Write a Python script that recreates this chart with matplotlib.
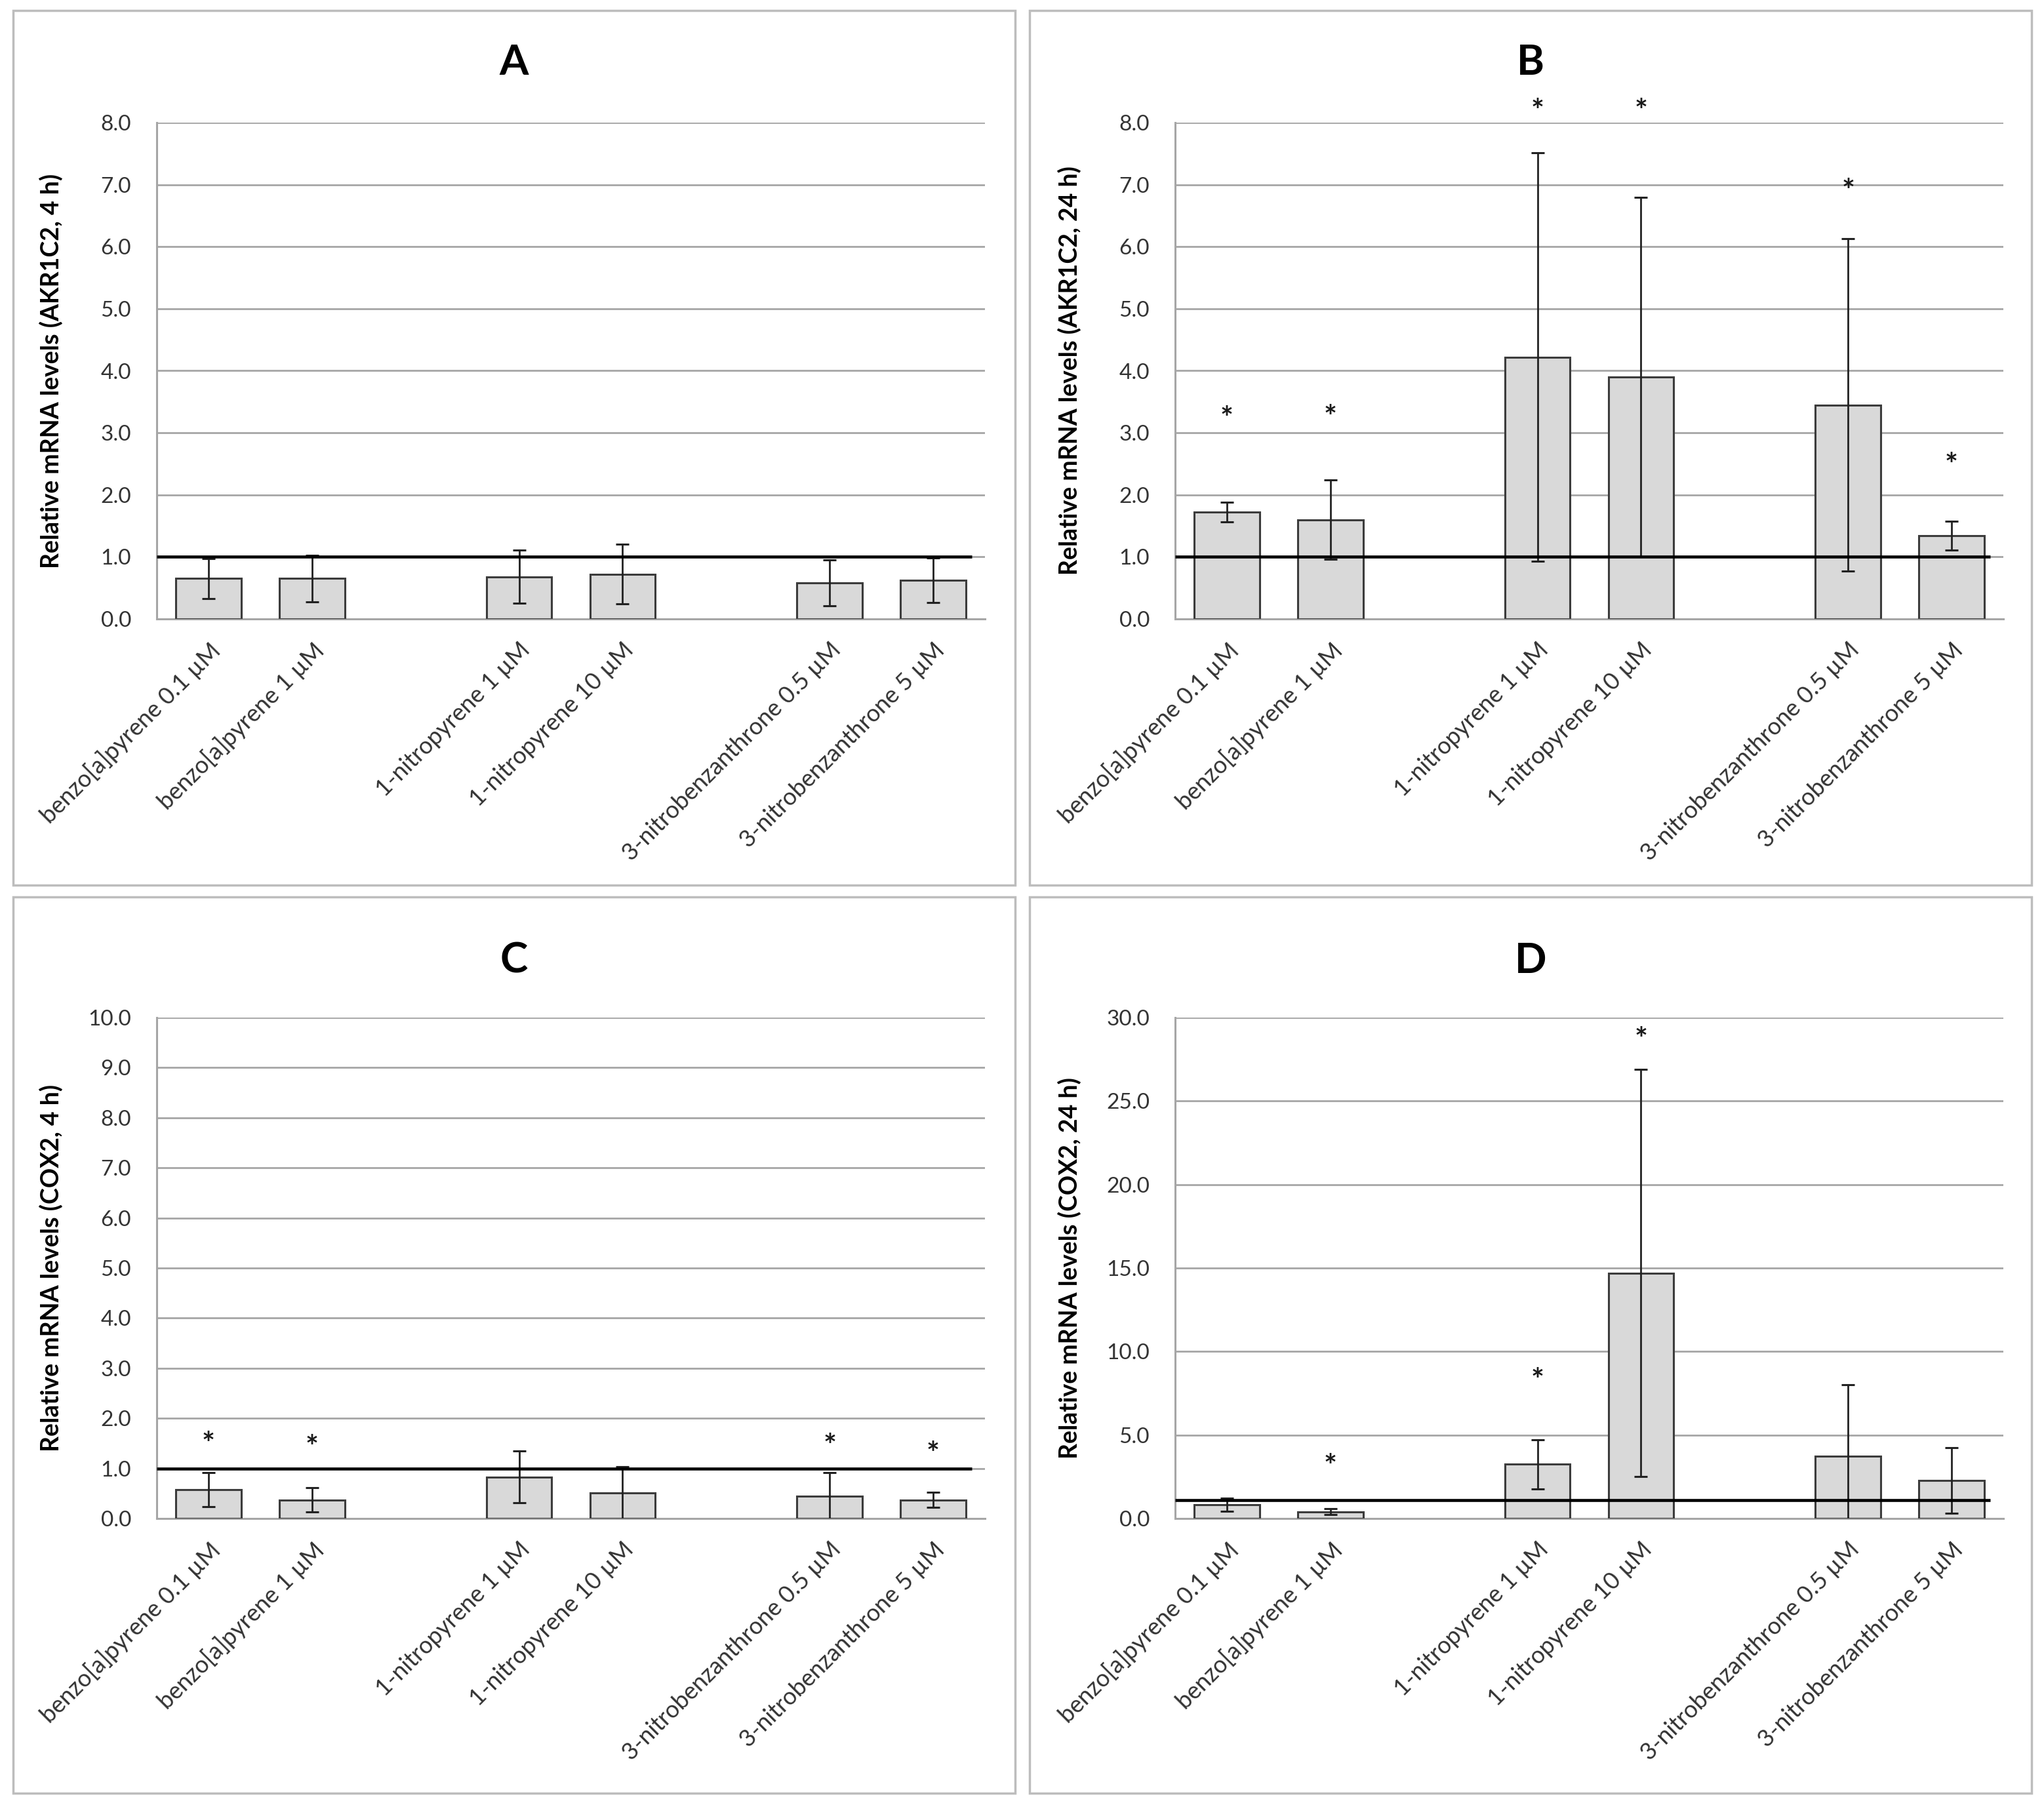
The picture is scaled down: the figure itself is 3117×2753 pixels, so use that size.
import matplotlib
matplotlib.use("Agg")
import matplotlib.pyplot as plt
from matplotlib.patches import Rectangle
import numpy as np

plt.rcParams['font.family'] = ['Lato', 'DejaVu Sans']

# ---------------- data ----------------
categories = ["benzo[a]pyrene 0.1 µM", "benzo[a]pyrene 1 µM", "",
              "1-nitropyrene 1 µM", "1-nitropyrene 10 µM", "",
              "3-nitrobenzanthrone 0.5 µM", "3-nitrobenzanthrone 5 µM"]
bar_slots = [0, 1, 3, 4, 6, 7]

titles = ["A", "B", "C", "D"]
ylabels = ["Relative mRNA levels (AKR1C2, 4 h)",
           "Relative mRNA levels (AKR1C2, 24 h)",
           "Relative mRNA levels (COX2, 4 h)",
           "Relative mRNA levels (COX2, 24 h)"]
ymax = [8.0, 8.0, 10.0, 30.0]
ystep = [1.0, 1.0, 1.0, 5.0]
ref_level = [1.0, 1.0, 1.0, 1.1]

vals_A = [0.65, 0.65, 0.68, 0.72, 0.58, 0.62]
err_A = [0.32, 0.38, 0.43, 0.48, 0.37, 0.36]
star_A = [None, None, None, None, None, None]

vals_B = [1.72, 1.60, 4.22, 3.90, 3.45, 1.34]
err_B = [0.16, 0.64, 3.29, 2.90, 2.68, 0.23]
star_B = [3.32, 3.34, 8.27, 8.27, 6.98, 2.56]

vals_C = [0.57, 0.37, 0.83, 0.51, 0.45, 0.37]
err_C = [0.34, 0.24, 0.52, 0.53, 0.47, 0.15]
star_C = [1.59, 1.53, None, None, 1.56, 1.40]

vals_D = [0.83, 0.40, 3.25, 14.7, 3.73, 2.28]
err_D = [0.40, 0.17, 1.48, 12.2, 4.27, 1.95]
star_D = [None, 3.45, 8.6, 29.0, None, None]

all_vals = [vals_A, vals_B, vals_C, vals_D]
all_errs = [err_A, err_B, err_C, err_D]
all_stars = [star_A, star_B, star_C, star_D]

# ---------------- layout ----------------
W, H = 3117, 2753
fig = plt.figure(figsize=(W / 100, H / 100), dpi=100)

def fx(px):
    return px / W

def fy(py):
    return 1 - py / H

axes_px = [  # left, right, top, bottom in pixels
    (239, 1502, 187, 944),
    (1792, 3055, 187, 944),
    (239, 1502, 1552, 2316),
    (1792, 3055, 1552, 2316),
]
boxes_px = [
    (20, 1548, 16, 1350),
    (1570, 3098, 16, 1350),
    (20, 1548, 1368, 2735),
    (1570, 3098, 1368, 2735),
]
title_y_px = [95, 95, 1465, 1465]

grid_c = '#a6a6a6'
edge_c = '#3c3c3c'
fill_c = '#d9d9d9'
text_c = '#333333'

for i in range(4):
    l, r, t, b = axes_px[i]
    ax = fig.add_axes([fx(l), fy(b), fx(r) - fx(l), fy(t) - fy(b)])
    x = np.array(bar_slots, dtype=float)
    ax.bar(x, all_vals[i], width=0.63, color=fill_c, edgecolor=edge_c,
           linewidth=2.2, zorder=3)
    ax.errorbar(x, all_vals[i], yerr=all_errs[i], fmt='none', ecolor='#222222',
                elinewidth=2.0, capsize=7.5, capthick=2.2, zorder=4)
    ax.plot([0, 0.984], [ref_level[i], ref_level[i]], color='black', lw=3.3,
            transform=ax.get_yaxis_transform(), zorder=5, solid_capstyle='butt')
    for xi, s in zip(x, all_stars[i]):
        if s is not None:
            ax.annotate("*", xy=(xi, s), xytext=(0, -7), textcoords='offset points',
                        ha='center', va='center', fontsize=34, fontweight='bold',
                        color='#1a1a1a', annotation_clip=False, zorder=6)
    ax.set_xlim(-0.5, len(categories) - 0.5)
    ax.set_ylim(0, ymax[i])
    yt = np.arange(0, ymax[i] + ystep[i] / 2, ystep[i])
    ax.set_yticks(yt)
    ax.set_yticklabels([f"{v:.1f}" for v in yt], fontsize=24, color=text_c)
    ax.set_xticks(range(len(categories)))
    ax.set_xticklabels(categories, rotation=45, ha='right', va='top',
                       rotation_mode='anchor', fontsize=26, color=text_c)
    ax.tick_params(axis='both', length=0)
    ax.tick_params(axis='x', pad=22)
    ax.tick_params(axis='y', pad=28)
    ax.yaxis.grid(True, color=grid_c, lw=2.0)
    ax.set_axisbelow(True)
    for sp in ['top', 'right']:
        ax.spines[sp].set_visible(False)
    for sp in ['left', 'bottom']:
        ax.spines[sp].set_color(grid_c)
        ax.spines[sp].set_linewidth(2.2)
    ax.set_ylabel(ylabels[i], fontsize=27, fontweight='bold', color='black')
    ax.yaxis.set_label_coords(-0.113, 0.5)

    bl, br, bt, bb = boxes_px[i]
    fig.patches.append(Rectangle((fx(bl), fy(bb)), fx(br) - fx(bl), fy(bt) - fy(bb),
                                 transform=fig.transFigure, fill=False,
                                 edgecolor='#bdbdbd', lw=2.5))
    fig.text(fx((bl + br) / 2), fy(title_y_px[i]), titles[i], ha='center', va='center',
             fontsize=46, fontweight='bold', color='black')

fig.savefig("out.png", dpi=100, facecolor='white')
